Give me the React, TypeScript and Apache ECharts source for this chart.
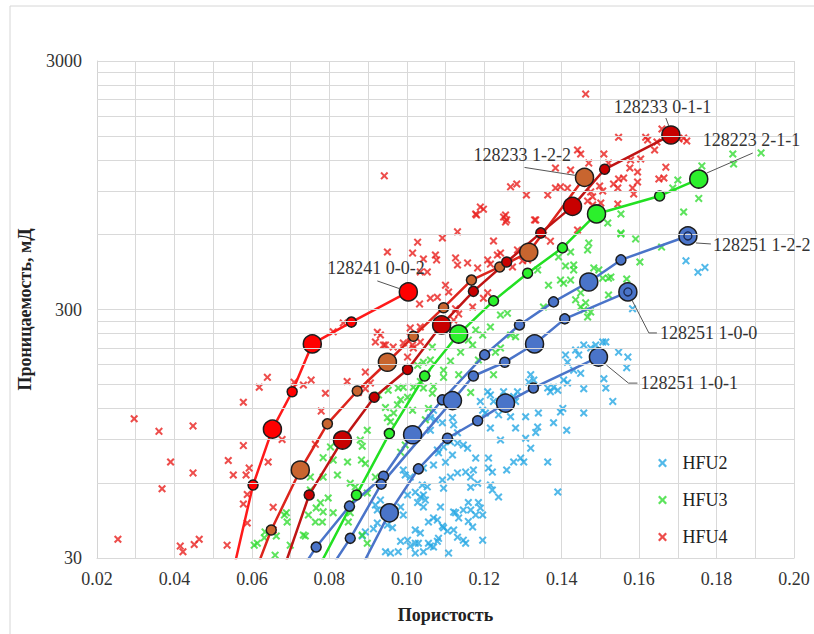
import React, { useEffect, useRef } from 'react';
import * as echarts from 'echarts';

const FONT = 'Liberation Serif';
const X_PATH = 'path://M0,1.8L1.8,0L5,3.2L8.2,0L10,1.8L6.8,5L10,8.2L8.2,10L5,6.8L1.8,10L0,8.2L3.2,5Z';

// Scatter data: [porosity, permeability mD]
const hfu2: number[][] = [
  [0.1506,222],[0.1488,216],[0.1457,216],[0.1475,210],[0.1436,206],[0.1444,197],[0.141,197],[0.1415,184],
  [0.1431,171],[0.1449,166],[0.1509,158],[0.1514,145],[0.1405,156],[0.1415,152],[0.1379,146],[0.139,142],
  [0.1457,144],[0.1403,120],[0.1397,116],[0.1457,115],[0.1413,98],[0.132,164],[0.1328,156],[0.1315,153],
  [0.1286,140],[0.1276,134],[0.1364,145],[0.1371,140],[0.134,115],[0.1338,101],[0.1333,96],[0.1379,105],
  [0.1307,111],[0.1268,127],[0.1281,128],[0.125,140],[0.1216,136],[0.1209,140],[0.1224,128],[0.1196,118],
  [0.1203,115],[0.1237,113],[0.1268,111],[0.119,128],[0.1216,100],[0.1281,100],[0.1307,91],[0.132,83],
  [0.1242,89.5],[0.1211,75.7],[0.1178,75.7],[0.1146,85.5],[0.1157,83],[0.1131,87],[0.1113,88],[0.1095,84],
  [0.1082,79.5],[0.11,72.9],[0.1118,77.9],[0.1131,66],[0.1152,66.5],[0.1165,63.5],[0.1172,67.8],[0.1183,60],
  [0.1165,57.8],[0.1221,56.3],[0.1237,52.8],[0.1258,67.8],[0.1211,69],[0.1221,66.5],[0.1276,73],[0.1302,73],
  [0.1364,73],[0.139,55.3],[0.1294,75.7],[0.1216,59],[0.1159,50.2],[0.1165,46.8],[0.1185,50.2],[0.119,47.7],
  [0.1178,44.7],[0.1196,44.7],[0.117,40],[0.1196,35.4],[0.1146,35.4],[0.1152,34.4],[0.1121,45.9],[0.1126,45.6],
  [0.1159,42.1],[0.1121,38.9],[0.1043,53.8],[0.1035,52.8],[0.1048,51.3],[0.1028,50.2],[0.1043,48.1],[0.1056,41.9],
  [0.1069,43.5],[0.1079,42.7],[0.1022,38.9],[0.1035,37.8],[0.1056,34.4],[0.1069,33.2],[0.1082,36],[0.1022,34.4],
  [0.1043,31.8],[0.1095,39.7],[0.1108,31.4],[0.1069,118],[0.1095,127],[0.1061,110],[0.1074,108],[0.1092,105],
  [0.1118,110],[0.1121,103],[0.1131,95.8],[0.1061,98],[0.1079,81.6],[0.0991,67.8],[0.0996,64.7],[0.1009,63.5],
  [0.1002,53.8],[0.1022,55.2],[0.104,59],[0.1053,58],[0.1043,69],[0.1069,71],[0.1092,61.8],[0.1095,57.3],
  [0.1113,63.5],[0.1087,48.1],[0.1146,46.8],[0.1092,40.3],[0.1105,38.5],[0.1134,43.5],[0.1131,36.4],[0.1079,35],
  [0.1061,33.5],[0.103,34.4],[0.1009,33.5],[0.1002,35.4],[0.0984,35],[0.0978,31.8],[0.1022,31.4],[0.0963,39.7],
  [0.095,40.7],[0.0932,51.3],[0.0919,49],[0.0924,46.8],[0.0984,48.1],[0.0991,44.7],[0.0893,38.2],[0.0885,36.8],
  [0.0924,41.5],[0.0914,39.3],[0.0958,31.4],[0.0945,31.8],[0.1721,471],[0.1752,424],[0.177,443],[0.1583,302],
  [0.1547,202],[0.1571,193],[0.1568,175],[0.1532,128],[0.1514,222]
];

const hfu3: number[][] = [
  [0.0606,33.8],[0.0632,36.2],[0.0647,38.9],[0.066,30.8],[0.0663,36.8],[0.0684,44.7],[0.0689,45.6],[0.0699,33.8],
  [0.0738,36.8],[0.0751,56.3],[0.0766,47.7],[0.0782,41.9],[0.0784,76],[0.0797,52.3],[0.081,45.6],[0.0847,73],
  [0.0854,60],[0.088,89.5],[0.0883,74.3],[0.0898,98],[0.0927,136],[0.0945,121],[0.0966,115],[0.0984,130],
  [0.1002,133],[0.0952,142],[0.0978,145],[0.0958,106],[0.0991,146],[0.0919,63.5],[0.0898,54.8],[0.0854,45.6],
  [0.0893,72],[0.0867,58],[0.0784,63.5],[0.0751,63.5],[0.0746,44.7],[0.0764,41.9],[0.0691,41.9],[0.0634,38.2],
  [0.0614,34.4],[0.0784,46],[0.0849,41.9],[0.0885,37.1],[0.0898,34.4],[0.0803,84],[0.1028,179],[0.1053,166],
  [0.1043,145],[0.0976,124],[0.1015,118],[0.095,110],[0.1056,120],[0.1048,108],[0.0984,80],[0.0996,85.5],
  [0.1553,609],[0.147,555],[0.1467,521],[0.1423,511],[0.1392,488],[0.141,449],[0.1431,433],[0.1338,433],
  [0.1506,401],[0.1527,405],[0.1462,319],[0.1449,307],[0.1457,299],[0.1397,394],[0.1405,383],[0.1366,376],
  [0.1353,307],[0.1242,285],[0.126,290],[0.1216,255],[0.1178,248],[0.1196,237],[0.1268,237],[0.1281,233],
  [0.1159,226],[0.117,216],[0.1229,202],[0.1242,210],[0.1139,202],[0.1185,188],[0.1066,212],[0.1043,184],
  [0.1061,188],[0.1095,171],[0.1134,164],[0.1165,139],[0.1069,147],[0.1035,154],[0.1017,146],[0.1224,164],
  [0.1475,293],[0.1113,186],[0.1066,138],[0.1095,160],[0.1436,328],[0.1842,1268],[0.1915,1280],[0.1844,1155],
  [0.1762,1135],[0.1754,840],[0.17,996],[0.1687,925],[0.1715,740],[0.1553,727],[0.1519,669],[0.1553,604],
  [0.1591,577],[0.1658,535],[0.1602,466],[0.1521,401],[0.1568,398],[0.1431,453],[0.1483,441],[0.1496,433],
  [0.1423,394],[0.1449,350],[0.1521,343],[0.1467,280],[0.0821,64.7],[0.081,74.3],[0.0777,50],[0.0733,37.1],
  [0.0885,84.5]
];

const hfu4: number[][] = [
  [0.0296,109],[0.036,97],[0.0448,102],[0.039,73],[0.0448,66],[0.0368,57],[0.0254,35.7],[0.0415,33.5],
  [0.0422,31.8],[0.0451,34],[0.0464,35.7],[0.0536,33.8],[0.0539,74],[0.0552,64.7],[0.0578,127],[0.0578,85],
  [0.0585,64.7],[0.0593,69],[0.0619,146],[0.064,160],[0.0642,73],[0.0578,49.5],[0.0588,41.5],[0.0655,48],
  [0.0678,90],[0.0709,153],[0.0733,149],[0.0753,156],[0.0779,117],[0.079,138],[0.0764,86],[0.0846,154],
  [0.0655,38.9],[0.0588,54],[0.0924,243],[0.094,216],[0.0991,220],[0.1009,233],[0.0906,152],[0.0893,144],
  [0.0875,139],[0.0942,1035],[0.095,511],[0.1015,506],[0.1028,560],[0.0836,265],[0.1198,760],[0.118,720],
  [0.125,707],[0.1255,675],[0.133,688],[0.1131,616],[0.1092,582],[0.1224,566],[0.1074,497],[0.1077,475],
  [0.1043,479],[0.1126,484],[0.1131,453],[0.1157,462],[0.1183,441],[0.1209,475],[0.1216,457],[0.1234,497],
  [0.1242,506],[0.1286,521],[0.1299,471],[0.1312,475],[0.1273,445],[0.1353,598],[0.1371,565],[0.1035,425],
  [0.1053,425],[0.11,376],[0.1108,353],[0.1061,333],[0.1079,336],[0.1033,316],[0.1126,302],[0.1134,288],
  [0.117,307],[0.1198,333],[0.1209,350],[0.1121,272],[0.1035,255],[0.1009,253],[0.0932,237],[0.0919,222],
  [0.0945,216],[0.0965,212],[0.1015,216],[0.1035,222],[0.1017,210],[0.081,244],[0.1002,193],[0.0893,168],
  [0.1462,2208],[0.1547,1480],[0.1617,1480],[0.1622,1443],[0.1659,1597],[0.1646,1416],[0.164,1315],[0.1715,1470],
  [0.1723,1430],[0.1703,1456],[0.1441,1315],[0.1449,1268],[0.1509,1268],[0.147,1165],[0.1521,1165],[0.1578,1199],
  [0.1604,1210],[0.1669,1122],[0.1384,1113],[0.1423,1093],[0.1576,1113],[0.1596,1073],[0.1547,1005],[0.156,1015],
  [0.1534,960],[0.1545,925],[0.1596,978],[0.1583,925],[0.1651,1005],[0.1664,1015],[0.1586,875],[0.1268,935],
  [0.1284,960],[0.1309,867],[0.1364,867],[0.1384,925],[0.1397,935],[0.1415,925],[0.1498,942],[0.1506,900],
  [0.1475,892],[0.148,852],[0.1467,820],[0.148,790],[0.1501,805],[0.1545,797],[0.1178,727],[0.119,775],
  [0.1255,720],[0.1258,688],[0.1333,688],[0.1441,627]
];

// Sample curves: [porosity, permeability]
const curve128241_002: number[][] = [[0.0555,28],[0.0603,59],[0.0653,99],[0.0704,140],[0.0756,218],[0.0857,267],[0.1004,353]];
const curve128233_122: number[][] = [[0.0615,28],[0.065,38.9],[0.0725,67.8],[0.0795,104],[0.0872,141],[0.095,184],[0.1017,234],[0.1095,305],[0.1167,394],[0.124,445],[0.1315,510],[0.1459,1020]];
const curve128233_011: number[][] = [[0.0685,28],[0.0748,53.8],[0.0834,89.5],[0.0916,133],[0.1002,172],[0.109,260],[0.1172,355],[0.1258,466],[0.1346,610],[0.1428,780],[0.1511,1100],[0.1682,1511]];
const curve128223_211: number[][] = [[0.0775,28],[0.087,53.8],[0.0955,95],[0.1046,162],[0.1134,239],[0.1224,325],[0.1312,420],[0.1402,531],[0.149,727],[0.1653,859],[0.1754,1005]];
const curve128251_122: number[][] = [[0.0735,28],[0.0766,33.2],[0.0852,48.5],[0.094,64],[0.1015,94],[0.1092,130],[0.1201,197],[0.1291,260],[0.1379,322],[0.147,387],[0.1553,475],[0.1726,593]];
const curve128251_100: number[][] = [[0.0808,28],[0.0854,36],[0.0934,59.5],[0.1118,129],[0.1172,162],[0.1253,184],[0.133,218],[0.1408,275],[0.1571,353]];
const curve128251_101: number[][] = [[0.0885,28],[0.0955,45.6],[0.103,68.5],[0.1105,91],[0.1183,107],[0.1255,126],[0.1327,145],[0.1495,193]];

// Horizontal grid values (log axis, Excel-style minor lines)
const majorY = [30, 300, 3000];
const minorY = [60, 90, 120, 150, 180, 210, 240, 270, 600, 900, 1200, 1500, 1800, 2100, 2400, 2700];

// Styling / annotation config (kept separate from data)
const curveDefs = [
  { name: '128241 0-0-2', data: curve128241_002, kinds: '-sbsbsb', line: '#ff1a1a', fill: '#ff0000', ring: false,
    dx: -81, dy: -24, leader: [[-31, -11], [-8, -3]] },
  { name: '128233 1-2-2', data: curve128233_122, kinds: '-sbssbssssbb', line: '#dc241c', fill: '#c8652f', ring: false,
    dx: -111, dy: -22, leader: [[-60, -10], [-9, -2]] },
  { name: '128233 0-1-1', data: curve128233_011, kinds: '-sbssbsssbsb', line: '#bf1414', fill: '#c80000', ring: false,
    dx: -57, dy: -28, leader: [[-5, -17], [-2, -9]] },
  { name: '128223 2-1-1', data: curve128223_211, kinds: '-sssbsssbsb', line: '#22e022', fill: '#2cf02c', ring: false,
    dx: 4, dy: -39, leader: [[54, -26], [8, -6]] },
  { name: '128251 1-2-2', data: curve128251_122, kinds: '-sssbssssbsb', line: '#4a74c9', fill: '#4a74c9', ring: true,
    dx: 25, dy: 9, leader: [[8, 7], [23, 8]] },
  { name: '128251 1-0-0', data: curve128251_100, kinds: '-ssbssbsb', line: '#4a74c9', fill: '#4a74c9', ring: true,
    dx: 32, dy: 41, leader: [[4, 8], [21, 41], [29, 41]] },
  { name: '128251 1-0-1', data: curve128251_101, kinds: '-bsssbsb', line: '#4a74c9', fill: '#4a74c9', ring: false,
    dx: 42, dy: 26, leader: [[8, 8], [30, 26], [39, 26]] },
];

const sizeOf = (k: string) => (k === 'b' ? 18 : k === 's' ? 10 : 0);

export default function App() {
  const ref = useRef<HTMLDivElement>(null);
  useEffect(() => {
    const chart = echarts.init(ref.current!, null, { renderer: 'svg' });
    const gridVals = [...majorY, ...minorY];
    const option: any = {
      animation: false,
      backgroundColor: '#ffffff',
      textStyle: { fontFamily: FONT },
      grid: { left: 97, right: 20, top: 61, bottom: 76 },
      xAxis: {
        type: 'value', min: 0.02, max: 0.2, interval: 0.01,
        axisLine: { show: true, lineStyle: { color: '#d4d4d4', width: 1 } },
        axisTick: { show: false },
        splitLine: { show: true, lineStyle: { color: '#d9d9d9', width: 1 } },
        axisLabel: {
          formatter: (v: number) => (Math.round(v * 100) % 2 === 0 ? v.toFixed(2) : ''),
          fontFamily: FONT, fontSize: 18, color: '#333', margin: 12,
        },
        name: 'Пористость', nameLocation: 'middle', nameGap: 48,
        nameTextStyle: { fontFamily: FONT, fontSize: 18, fontWeight: 'bold', color: '#222' },
      },
      yAxis: {
        type: 'log', logBase: 10, min: 30, max: 3000,
        axisLine: { show: true, lineStyle: { color: '#d4d4d4', width: 1 } },
        axisTick: { show: false },
        splitLine: { show: false },
        axisLabel: { show: false },
        name: 'Проницаемость, мД', nameLocation: 'middle', nameGap: 63, nameRotate: 90,
        nameTextStyle: { fontFamily: FONT, fontSize: 18, fontWeight: 'bold', color: '#222' },
      },
      legend: {
        orient: 'vertical', left: 653, top: 449, itemWidth: 30, itemHeight: 9, itemGap: 19,
        data: [{ name: 'HFU2', icon: X_PATH }, { name: 'HFU3', icon: X_PATH }, { name: 'HFU4', icon: X_PATH }],
        textStyle: { fontFamily: FONT, fontSize: 18, color: '#222' },
        selectedMode: false,
      },
      series: [
        {
          type: 'line', name: 'grid', data: [], z: 1, silent: true,
          markLine: {
            silent: true, symbol: ['none', 'none'], animation: false,
            lineStyle: { color: '#d9d9d9', width: 1, type: 'solid' },
            label: { show: false },
            emphasis: { disabled: true },
            data: gridVals.map((v) => ({
              yAxis: v,
              label: majorY.includes(v)
                ? { show: true, position: 'start', formatter: String(v), fontFamily: FONT, fontSize: 18, color: '#333', distance: 15 }
                : { show: false },
            })),
          },
        },
        { type: 'scatter', name: 'HFU2', data: hfu2, symbol: X_PATH, symbolSize: 8, itemStyle: { color: '#27a7e3' }, z: 2, emphasis: { disabled: true } },
        { type: 'scatter', name: 'HFU3', data: hfu3, symbol: X_PATH, symbolSize: 8, itemStyle: { color: '#35dc35' }, z: 2, emphasis: { disabled: true } },
        { type: 'scatter', name: 'HFU4', data: hfu4, symbol: X_PATH, symbolSize: 8, itemStyle: { color: '#e8201e' }, z: 2, emphasis: { disabled: true } },
        ...curveDefs.map((c) => ({
          type: 'line', name: c.name, data: c.data, z: 4, symbol: 'circle', showSymbol: true, showAllSymbol: true,
          symbolSize: (_v: any, p: any) => sizeOf(c.kinds[p.dataIndex]),
          lineStyle: { color: c.line, width: 2.5 },
          itemStyle: { color: c.fill, borderColor: '#1c1c1c', borderWidth: 1.5 },
          emphasis: { disabled: true },
          clip: true,
          markPoint: c.ring
            ? {
                silent: true, animation: false, symbol: 'circle', symbolSize: 8,
                itemStyle: { color: 'rgba(0,0,0,0)', borderColor: '#1a2850', borderWidth: 1.3 },
                label: { show: false },
                data: [{ coord: c.data[c.data.length - 1] }],
              }
            : undefined,
        })),
      ],
    };
    chart.setOption(option);

    const graphics: any[] = [
      { type: 'rect', silent: true, z: -10, shape: { x: 10, y: 6, width: 900, height: 800 }, style: { fill: null, stroke: '#d6d6d6', lineWidth: 1 } },
    ];
    curveDefs.forEach((c) => {
      const end = c.data[c.data.length - 1];
      const p = chart.convertToPixel({ gridIndex: 0 }, end) as number[];
      if (!p) return;
      const [px, py] = p;
      graphics.push({
        type: 'text', silent: true, z: 10, x: px + c.dx, y: py + c.dy,
        style: { text: c.name, fill: '#333', fontFamily: FONT, fontSize: 18, align: 'left', verticalAlign: 'middle' },
      });
      graphics.push({
        type: 'polyline', silent: true, z: 10,
        shape: { points: c.leader.map(([ox, oy]) => [px + ox, py + oy]) },
        style: { stroke: '#555', lineWidth: 1, fill: null },
      });
    });
    chart.setOption({ graphic: graphics });
    return () => chart.dispose();
  }, []);
  return <div ref={ref} style={{ position: 'fixed', left: 0, top: 0, width: 814, height: 634 }} />;
}
